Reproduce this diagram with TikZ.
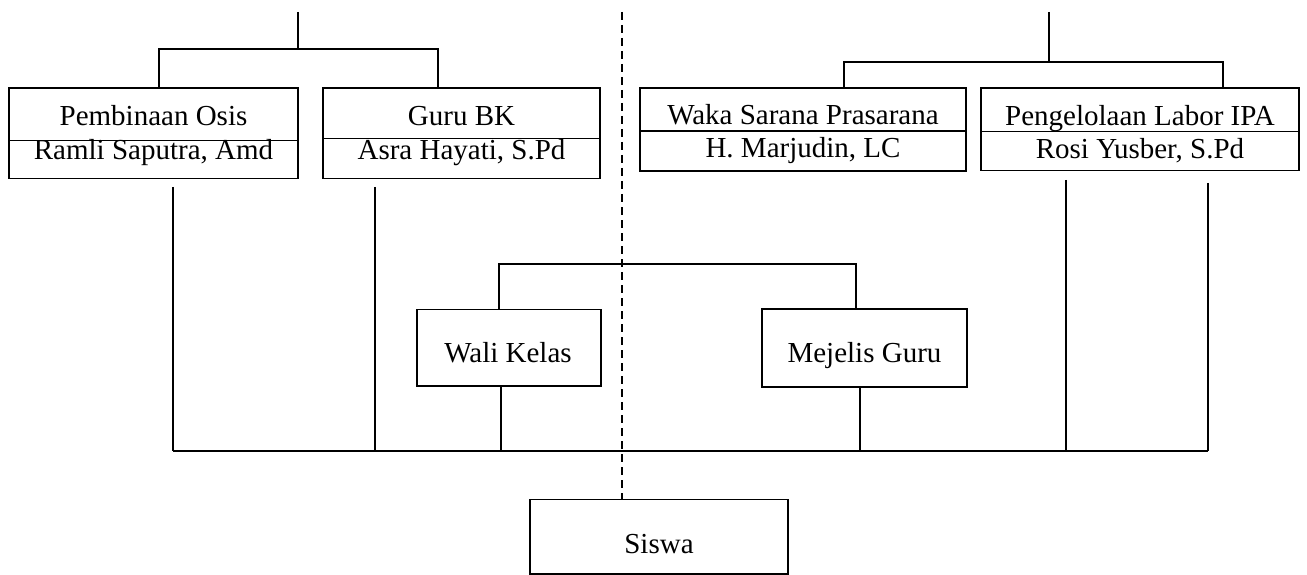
\documentclass[tikz,border=0pt]{standalone}
\usepackage{fontspec}
\setmainfont{Liberation Serif}
\begin{document}
\begin{tikzpicture}[x=1pt,y=-1pt,
  box/.style={draw, line width=1.4pt, rectangle, inner sep=0pt},
  txt/.style={anchor=base, inner sep=0pt, font=\fontsize{29}{34}\selectfont},
  conn/.style={line width=1.2pt},
  bus/.style={line width=2.4pt},
  sep/.style={line width=1.1pt, dash pattern=on 8pt off 5pt}]
\useasboundingbox (0,0) rectangle (1307,575);
% ---- top left boxes
\node[box, minimum width=289pt, minimum height=52.7pt] (po1) at (153.5,114.35) {};
\node[box, minimum width=289pt, minimum height=37.8pt] (po2) at (153.5,159.6) {};
\node[txt] (po1t) at (153.5,125.5) {Pembinaan Osis};
\node[txt] (po2t) at (153.5,160) {Ramli Saputra, Amd};
\node[box, minimum width=277pt, minimum height=50.7pt] (gb1) at (461.5,113.35) {};
\node[box, minimum width=277pt, minimum height=39.8pt] (gb2) at (461.5,158.6) {};
\node[txt] (gb1t) at (461.5,125.5) {Guru BK};
\node[txt] (gb2t) at (461.5,160) {Asra Hayati, S.Pd};
% ---- top right boxes
\node[box, minimum width=326pt, minimum height=43pt] (ws1) at (803,109.5) {};
\node[box, minimum width=326pt, minimum height=40pt] (ws2) at (803,151) {};
\node[txt] (ws1t) at (803,125) {Waka Sarana Prasarana};
\node[txt] (ws2t) at (803,157.5) {H. Marjudin, LC};
\node[box, minimum width=318pt, minimum height=43.7pt] (pl1) at (1140,109.85) {};
\node[box, minimum width=318pt, minimum height=39pt] (pl2) at (1140,151.2) {};
\node[txt] (pl1t) at (1140,125.5) {Pengelolaan Labor IPA};
\node[txt] (pl2t) at (1140,158.3) {Rosi Yusber, S.Pd};
% ---- middle boxes
\node[box, minimum width=184pt, minimum height=76.7pt] (wk) at (509,347.65) {};
\node[txt] (wkt) at (508,362.7) {Wali Kelas};
\node[box, minimum width=205pt, minimum height=78pt] (mg) at (864.5,348) {};
\node[txt] (mgt) at (864.5,362.7) {Mejelis Guru};
\node[box, minimum width=258pt, minimum height=74.7pt] (sw) at (659,536.65) {};
\node[txt] (swt) at (659,553) {Siswa};
% ---- coordinates
\coordinate (lt) at (298,12);
\coordinate (lj) at (298,49);
\coordinate (la) at (159,49);
\coordinate (lb) at (438,49);
\coordinate (rt) at (1049,12);
\coordinate (rj) at (1049,62);
\coordinate (ra) at (844,62);
\coordinate (rb) at (1223,62);
\coordinate (ma) at (499,264);
\coordinate (mb) at (856,264);
\coordinate (v1) at (173,187);
\coordinate (v2) at (375,187);
\coordinate (v3) at (1066,180);
\coordinate (v4) at (1208,183);
\coordinate (bl) at (173,451);
\coordinate (br) at (1208,451);
\coordinate (dt) at (622,12);
% ---- connectors
\draw[conn] (lt) -- (lj);
\draw[conn] (po1.north -| la) -- (la) -- (lb) -- (gb1.north -| lb);
\draw[conn] (rt) -- (rj);
\draw[conn] (ws1.north -| ra) -- (ra) -- (rb) -- (pl1.north -| rb);
\draw[conn] (wk.north -| ma) -- (ma) -- (mb) -- (mg.north -| mb);
\draw[conn] (v1) -- (v1 |- bl);
\draw[conn] (v2) -- (v2 |- bl);
\draw[conn] (v3) -- (v3 |- bl);
\draw[conn] (v4) -- (v4 |- bl);
\draw[conn] (wk.south -| 501,0) -- (501,451);
\draw[conn] (mg.south -| 860,0) -- (860,451);
\draw[bus] (bl) -- (br);
\draw[sep] (dt) -- (sw.north -| dt);
\end{tikzpicture}
\end{document}
